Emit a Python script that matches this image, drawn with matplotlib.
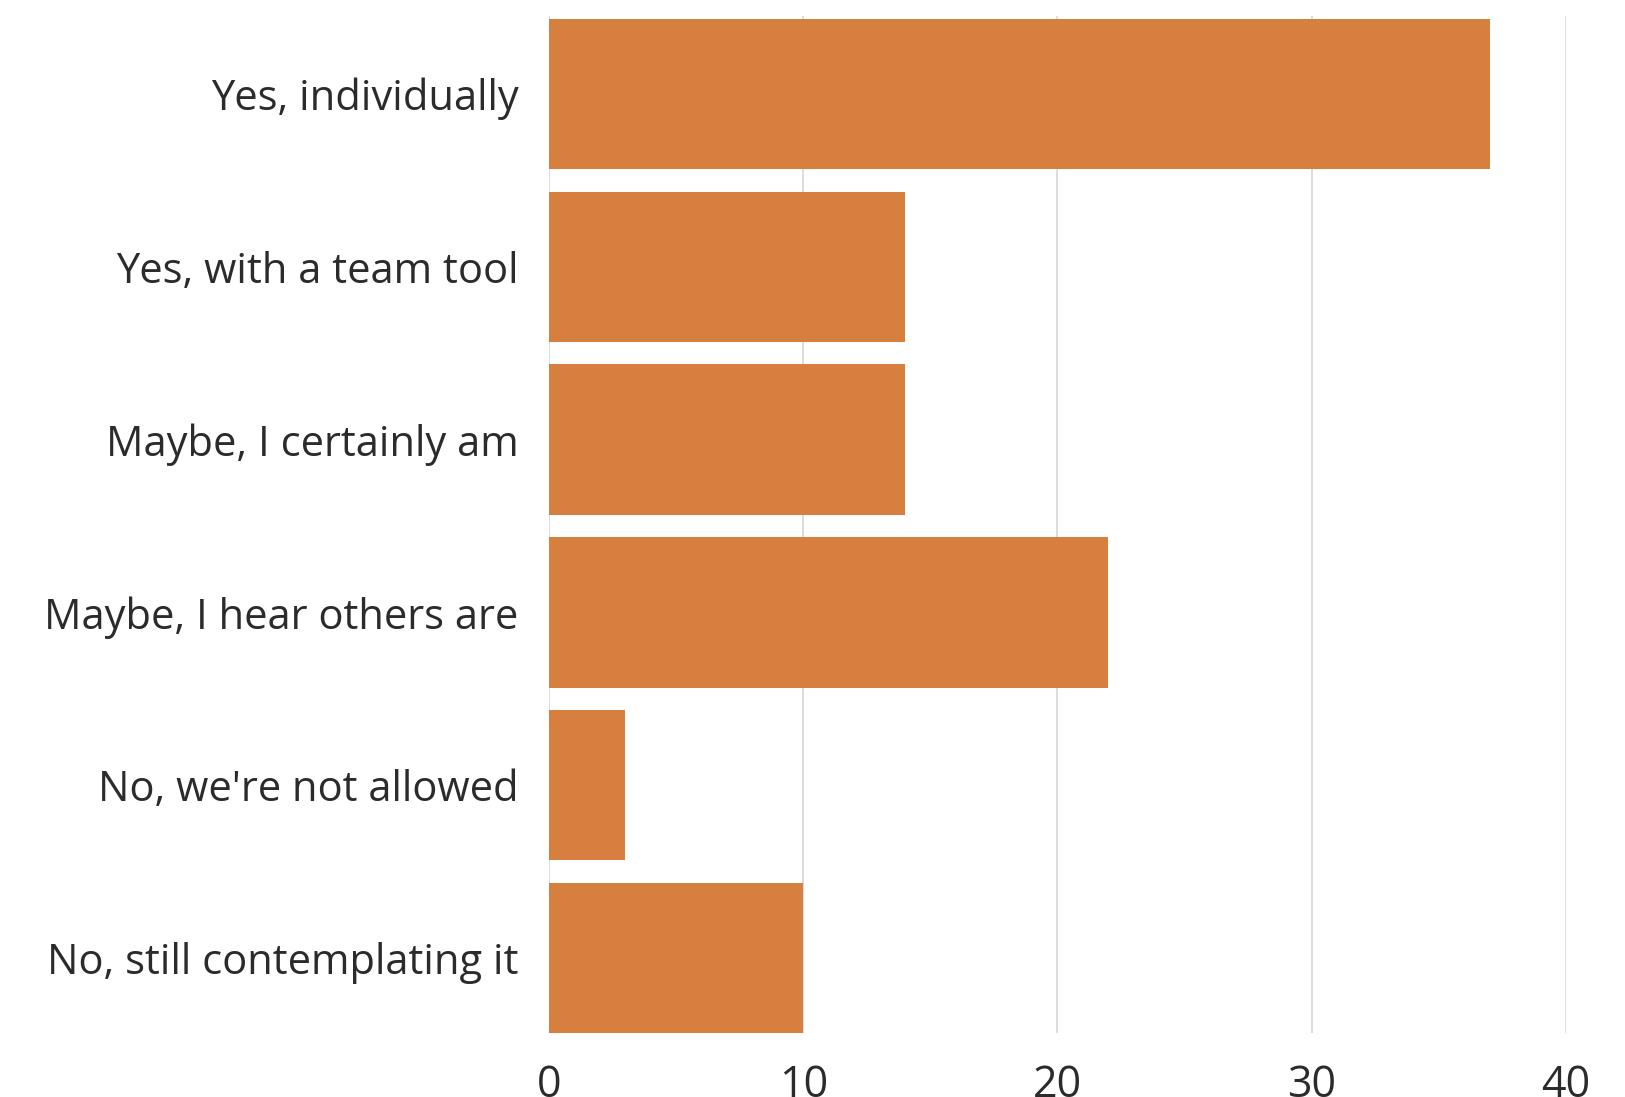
import matplotlib
matplotlib.use("Agg")
import matplotlib.pyplot as plt

categories = [
    "Yes, individually",
    "Yes, with a team tool",
    "Maybe, I certainly am",
    "Maybe, I hear others are",
    "No, we're not allowed",
    "No, still contemplating it",
]
values = [37, 14, 14, 22, 3, 10]
xticks = [0, 10, 20, 30, 40]

plt.rcParams['font.family'] = ['Open Sans', 'DejaVu Sans']

fig = plt.figure(figsize=(16.25, 10.97), dpi=100)
ax = fig.add_axes([0.3378, 0.0583, 0.6259, 0.9271])

ypos = list(range(len(categories)))
ax.barh(ypos, values, height=0.87, color="#D77F3E", zorder=2)

ax.set_xlim(0, 40)
ax.set_ylim(5.435, -0.452)
ax.set_yticks(ypos)
ax.set_yticklabels(categories, fontsize=30, color="#2b2b2b")
ax.set_xticks(xticks)
ax.set_xticklabels([str(t) for t in xticks], fontsize=31, color="#2b2b2b")
ax.tick_params(axis='both', length=0)
ax.tick_params(axis='y', pad=22)
ax.tick_params(axis='x', pad=22)
ax.grid(axis='x', color="#d6d6d6", linewidth=1.2, zorder=1)
for s in ax.spines.values():
    s.set_visible(False)

fig.savefig("out.png", dpi=100, facecolor="white")
